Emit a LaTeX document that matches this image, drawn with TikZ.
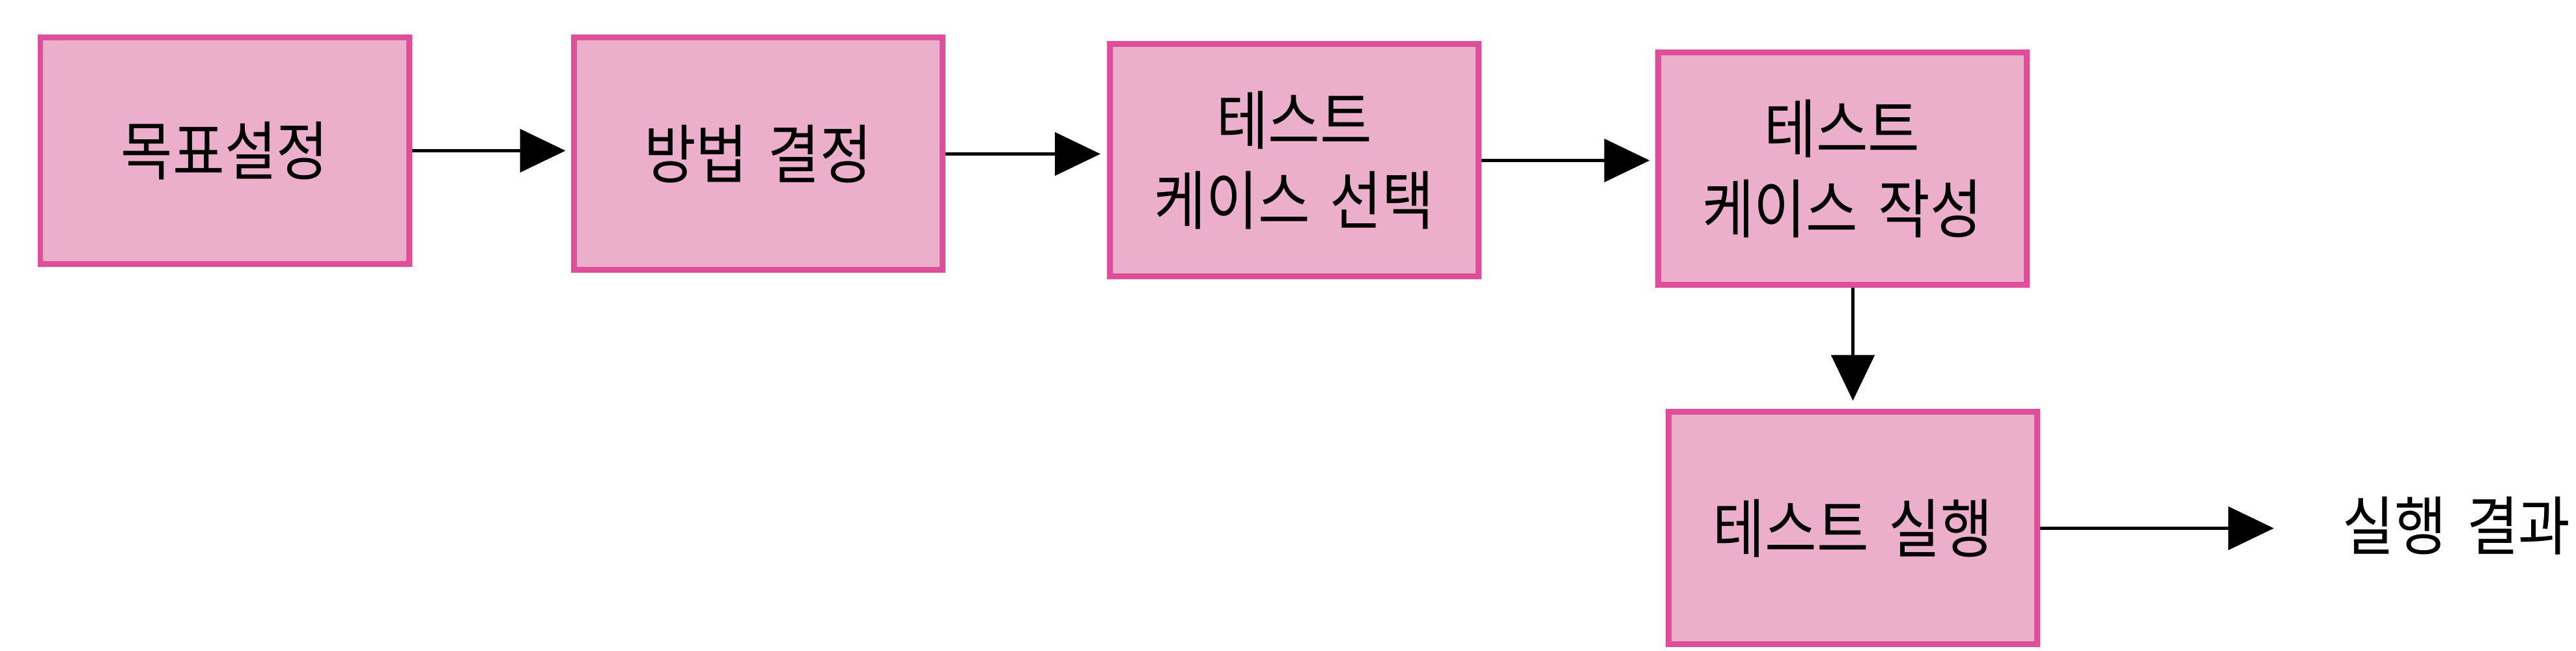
\documentclass[tikz,border=0pt]{standalone}
\usepackage{fontspec}
\usepackage{tikz}
\usetikzlibrary{arrows.meta, positioning}
\newfontfamily\krfont[FakeStretch=0.88, WordSpace=1.6]{Noto Sans CJK KR}
\definecolor{Blush}{HTML}{EBAFCB}
\definecolor{Rose}{HTML}{DE4F9A}
\tikzset{
  procbox/.style={rectangle, draw=Rose, fill=Blush, line width=0.09cm,
                  minimum width=5.66cm, minimum height=3.57cm, inner sep=0pt,
                  font=\krfont\fontsize{28}{35}\selectfont, align=center},
}
\begin{document}
\begin{tikzpicture}[
          arr/.style={-{Triangle[length=7mm, width=6.6mm]}, line width=0.05cm, color=black},
          node distance=0.2cm
        ]
          \useasboundingbox (0,0) rectangle (39.56,-10);
          \node[procbox, minimum height=3.48cm] (b1) at (3.45,-2.315) {목표설정};
          \node[procbox] (b2) at (11.64,-2.365) {방법 결정};
          \node[procbox] (b3) at (19.875,-2.465) {테스트\\케이스 선택};
          \node[procbox] (b4) at (28.29,-2.595) {테스트\\케이스 작성};
          \node[procbox] (b5) at (28.455,-8.115) {테스트 실행};
          \node[font=\krfont\fontsize{28}{35}\selectfont, inner sep=0pt, anchor=west]
            (res) at (35.97,-8.08) {실행 결과};
          \draw[arr, shorten >=0.08cm] (b1.east) -- (b1.east -| b2.west);
          \draw[arr, shorten >=0.1cm] (b2.east) -- (b2.east -| b3.west);
          \draw[arr, shorten >=0.08cm] (b3.east) -- (b3.east -| b4.west);
          \draw[arr, shorten >=0.13cm] (b4.south -| b5.north) -- (b5.north);
          \draw[arr, shorten >=1.05cm] (b5.east) -- (b5.east -| res.west);
        \end{tikzpicture}
\end{document}
